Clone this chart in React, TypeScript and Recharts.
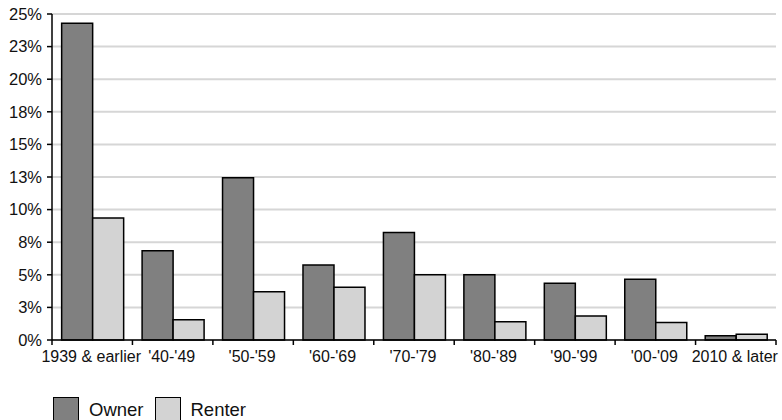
// Housing units by year built, owner vs renter share.
import React from "react";
import { Bar, BarChart, CartesianGrid, Legend, XAxis, YAxis } from "recharts";

const periods = ["1939 & earlier", "'40-'49", "'50-'59", "'60-'69", "'70-'79", "'80-'89", "'90-'99", "'00-'09", "2010 & later"];
const owner = [24.3, 6.85, 12.45, 5.75, 8.25, 5.0, 4.35, 4.65, 0.33];
const renter = [9.35, 1.55, 3.7, 4.05, 5.0, 1.4, 1.85, 1.35, 0.45];
const yTicks = [0, 2.5, 5, 7.5, 10, 12.5, 15, 17.5, 20, 22.5, 25];

const OWNER = "#808080";
const RENTER = "#d3d3d3";
const FONT = "Liberation Sans, Arial, sans-serif";

const data = periods.map((p, i) => ({ period: p, Owner: owner[i], Renter: renter[i] }));

// category label plus a tick mark on the band edges (the edges come from the axis' own band offset)
function EdgeTick(props: any) {
  const { x, y, payload, index } = props;
  const half = payload?.offset ?? 0;
  return (
    <g>
      {index === 0 && <line x1={x - half} x2={x - half} y1={y - 8} y2={y - 3} stroke="#000" strokeWidth={1.5} />}
      <line x1={x + half} x2={x + half} y1={y - 8} y2={y - 3} stroke="#000" strokeWidth={1.5} />
      <text x={x - 1} y={y + 3} dy="0.71em" textAnchor="middle" fontSize={16} fill="#111" fontFamily={FONT}>
        {payload.value}
      </text>
    </g>
  );
}

function LegendBox({ payload }: any) {
  return (
    <div style={{ display: "flex", alignItems: "center", paddingLeft: 53, fontFamily: FONT, fontSize: 18.5, color: "#111" }}>
      {(payload || []).map((e: any) => (
        <div key={e.value} style={{ display: "flex", alignItems: "center", marginRight: 11 }}>
          <span style={{ width: 26, height: 25, background: e.color, border: "1.5px solid #000", boxSizing: "border-box", marginRight: 10, display: "inline-block" }} />
          <span>{e.value}</span>
        </div>
      ))}
    </div>
  );
}

export default function App() {
  return (
    <div style={{ position: "absolute", left: 0, top: 0, width: 782, height: 420, background: "#fff" }}>
      <BarChart width={782} height={420} data={data} barCategoryGap="12%" barGap={0}
        margin={{ top: 14, right: 6, left: 0, bottom: 0 }}>
        <CartesianGrid vertical={false} stroke="#d6d6d6" strokeWidth={2} />
        <XAxis dataKey="period" height={57} axisLine={{ stroke: "#000", strokeWidth: 1.5 }} tickLine={false}
          interval={0} tickSize={5} tickMargin={3} tick={<EdgeTick />} />
        <YAxis width={52} domain={[0, 25]} ticks={yTicks} interval={0} tickSize={5} tickMargin={5}
          axisLine={{ stroke: "#000", strokeWidth: 1.5 }} tickLine={{ stroke: "#000", strokeWidth: 1.5 }}
          tickFormatter={(v: number) => `${Math.round(v)}%`}
          tick={{ fontSize: 16.5, fill: "#111", fontFamily: FONT }} />
        <Legend verticalAlign="bottom" align="left" height={23} content={<LegendBox />} />
        <Bar dataKey="Owner" fill={OWNER} stroke="#000" strokeWidth={1.5} isAnimationActive={false} />
        <Bar dataKey="Renter" fill={RENTER} stroke="#000" strokeWidth={1.5} isAnimationActive={false} />
      </BarChart>
    </div>
  );
}
